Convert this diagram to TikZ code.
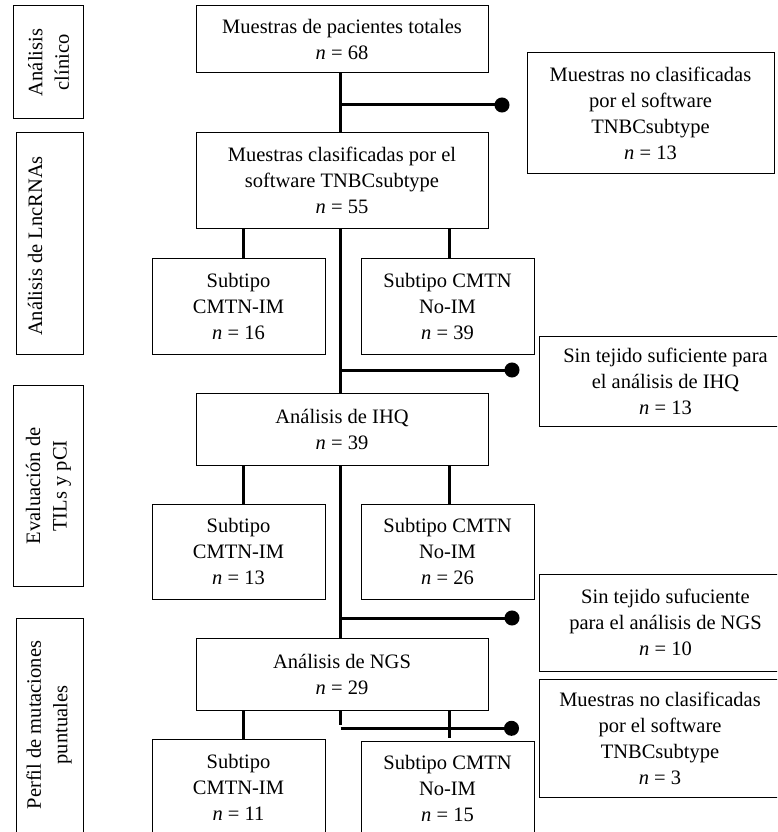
\documentclass[tikz,border=0pt]{standalone}
\usepackage{fontspec}
\setmainfont{Liberation Serif}
\usetikzlibrary{arrows.meta}
\begin{document}
\begin{tikzpicture}[x=1pt,y=-1pt,
  box/.style={draw, line width=1pt, inner sep=0pt, align=center, font=\fontsize{20.5}{26}\selectfont},
  lblbox/.style={draw, line width=1pt, inner sep=0pt},
  lbltext/.style={rotate=90, align=center, inner sep=0pt, font=\fontsize{20.5}{26.5}\selectfont},
  link/.style={line width=3pt},
  dotlink/.style={line width=3pt, -{Circle[length=15pt,width=15pt]}}
]
\clip (0,0) rectangle (777,832);
\fill[white] (0,0) rectangle (777,832);

% left stage labels
\node[lblbox, minimum width=70pt, minimum height=113pt] (L1) at (48,62.5) {};
\node[lbltext] (L1t) at (48.5,62.5) {Análisis\\clínico};
\node[lblbox, minimum width=67pt, minimum height=221pt] (L2) at (49.5,243.5) {};
\node[lbltext] (L2t) at (35,246) {Análisis de LncRNAs};
\node[lblbox, minimum width=70pt, minimum height=201pt] (L3) at (48,485.5) {};
\node[lbltext] (L3t) at (48.5,486) {Evaluación de\\TILs y pCI};
\node[lblbox, minimum width=67pt, minimum height=227pt] (L4) at (49.5,731.5) {};
\node[lbltext] (L4t) at (49,725) {Perfil de mutaciones\\puntuales};

% main column
\node[box, minimum width=292pt, minimum height=67pt] (top) at (342,39.5) {Muestras de pacientes totales\\\textit{n} = 68};
\node[box, minimum width=292pt, minimum height=95pt] (clasif) at (342,180.5) {Muestras clasificadas por el\\software TNBCsubtype\\\textit{n} = 55};
\node[box, minimum width=173pt, minimum height=96pt] (s1l) at (238.5,306) {Subtipo\\CMTN-IM\\\textit{n} = 16};
\node[box, minimum width=173pt, minimum height=96pt] (s1r) at (447.5,306) {Subtipo CMTN\\No-IM\\\textit{n} = 39};
\node[box, minimum width=292pt, minimum height=72pt] (ihq) at (342,429) {Análisis de IHQ\\\textit{n} = 39};
\node[box, minimum width=173pt, minimum height=95pt] (s2l) at (238.5,551.5) {Subtipo\\CMTN-IM\\\textit{n} = 13};
\node[box, minimum width=173pt, minimum height=95pt] (s2r) at (447.5,551.5) {Subtipo CMTN\\No-IM\\\textit{n} = 26};
\node[box, minimum width=292pt, minimum height=72pt] (ngs) at (342,674) {Análisis de NGS\\\textit{n} = 29};
\node[box, minimum width=173pt, minimum height=96pt] (s3l) at (238.5,787) {Subtipo\\CMTN-IM\\\textit{n} = 11};
\node[box, minimum width=173pt, minimum height=94pt] (s3r) at (447.5,788) {Subtipo CMTN\\No-IM\\\textit{n} = 15};

% excluded boxes
\node[box, minimum width=247pt, minimum height=120pt] (r1) at (650.5,113) {Muestras no clasificadas\\por el software\\TNBCsubtype\\\textit{n} = 13};
\node[box, minimum width=253pt, minimum height=90pt] (r2) at (665.5,381) {Sin tejido suficiente para\\el análisis de IHQ\\\textit{n} = 13};
\node[box, minimum width=253pt, minimum height=97pt] (r3) at (665.5,622.5) {Sin tejido sufuciente\\para el análisis de NGS\\\textit{n} = 10};
\node[box, minimum width=242pt, minimum height=118pt] (r4) at (660,738) {Muestras no clasificadas\\por el software\\TNBCsubtype\\\textit{n} = 3};

% connector columns
\coordinate (tx) at (340,0);
\coordinate (lx) at (243,0);
\coordinate (rx) at (449,0);

% trunk
\draw[link] (top.south -| tx) -- (clasif.north -| tx);
\draw[link] (clasif.south -| tx) -- (ihq.north -| tx);
\draw[link] (ihq.south -| tx) -- (ngs.north -| tx);
\coordinate (t4) at (340,724.5);
\draw[link] (ngs.south -| tx) -- (t4);

% branches with dots
\coordinate (b1) at (340,105);  \coordinate (d1) at (509.5,105);
\coordinate (b2) at (340,370);  \coordinate (d2) at (519.5,370);
\coordinate (b3) at (340,618);  \coordinate (d3) at (519.5,618);
\coordinate (b4) at (340.5,728.3); \coordinate (d4) at (519,728.3);
\draw[dotlink] (b1) -- (d1);
\draw[dotlink] (b2) -- (d2);
\draw[dotlink] (b3) -- (d3);
\draw[dotlink] (b4) -- (d4);

% subtype links
\draw[link] (clasif.south -| lx) -- (s1l.north -| lx);
\draw[link] (clasif.south -| rx) -- (s1r.north -| rx);
\draw[link] (ihq.south -| lx) -- (s2l.north -| lx);
\draw[link] (ihq.south -| rx) -- (s2r.north -| rx);
\draw[link] (ngs.south -| lx) -- (s3l.north -| lx);
\draw[link] (ngs.south -| rx) -- ([yshift=3pt]s3r.north -| rx);
\end{tikzpicture}
\end{document}
